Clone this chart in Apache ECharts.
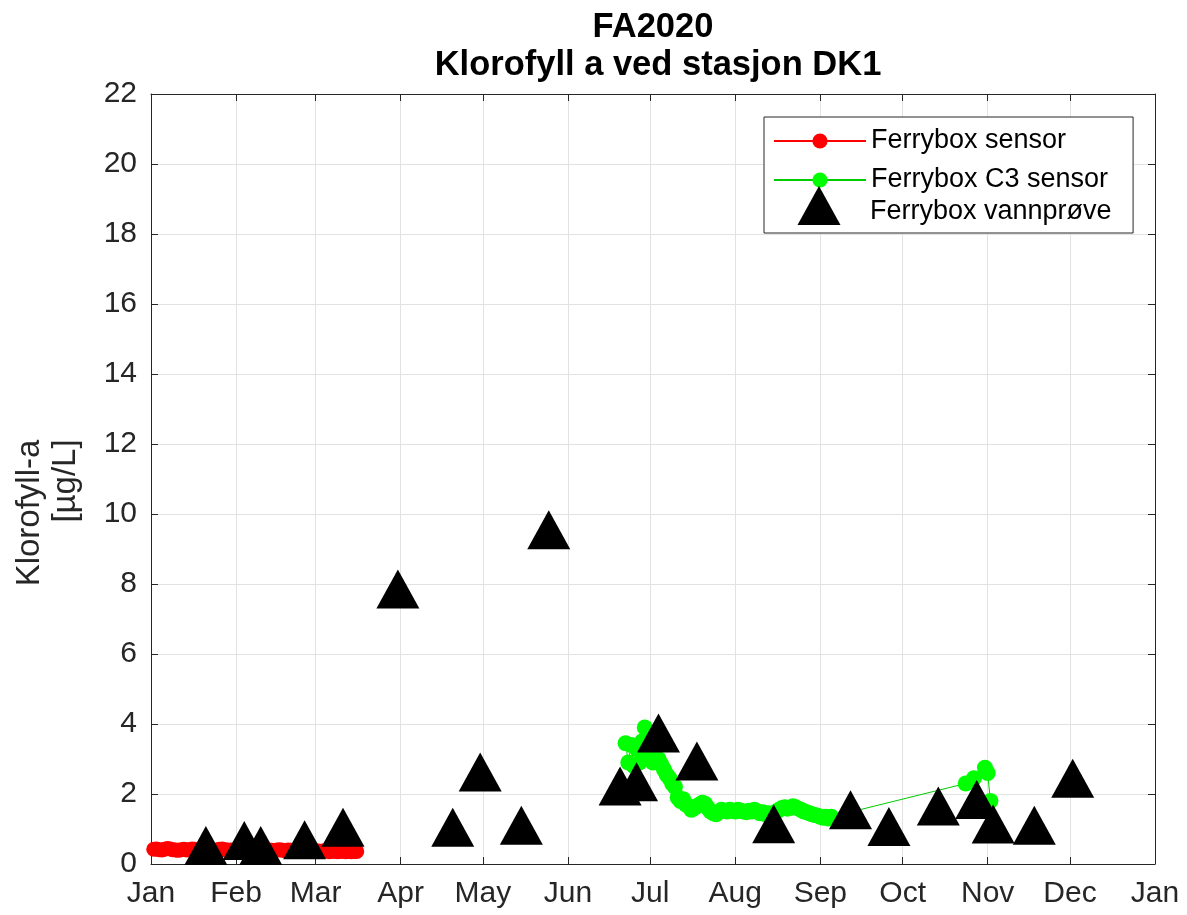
<!DOCTYPE html>
<html><head><meta charset="utf-8">
<script src="https://cdn.jsdelivr.net/npm/echarts@6/dist/echarts.min.js"></script>
<style>html,body{margin:0;padding:0;background:#fff}#c{width:1187px;height:915px}</style>
</head><body><div id="c"></div>
<script>
const titleLines = ['FA2020', 'Klorofyll a ved stasjon DK1'];
const yLabelLines = ['Klorofyll-a', '[µg/L]'];
const monthTicks = ['2020-01-01','2020-02-01','2020-03-01','2020-04-01','2020-05-01','2020-06-01','2020-07-01','2020-08-01','2020-09-01','2020-10-01','2020-11-01','2020-12-01','2021-01-01'];
const monthLabels = ['Jan','Feb','Mar','Apr','May','Jun','Jul','Aug','Sep','Oct','Nov','Dec','Jan'];
const yMin = 0, yMax = 22, yStep = 2;
const seriesNames = ['Ferrybox sensor', 'Ferrybox C3 sensor', 'Ferrybox vannprøve'];

// Ferrybox sensor (red)
const ferryboxSensor = [
['2020-01-02',0.42],['2020-01-03',0.43],['2020-01-04',0.41],['2020-01-05',0.40],['2020-01-06',0.42],['2020-01-07',0.44],['2020-01-08',0.43],['2020-01-09',0.41],['2020-01-10',0.40],['2020-01-11',0.39],
['2020-01-12',0.41],['2020-01-13',0.42],['2020-01-14',0.40],['2020-01-15',0.41],['2020-01-16',0.43],['2020-01-17',0.42],['2020-01-18',0.40],['2020-01-19',0.39],['2020-01-20',0.41],['2020-01-21',0.40],
['2020-01-22',0.42],['2020-01-23',0.41],['2020-01-24',0.39],['2020-01-25',0.40],['2020-01-26',0.42],['2020-01-27',0.43],['2020-01-28',0.41],['2020-01-29',0.40],['2020-01-30',0.39],['2020-01-31',0.41],
['2020-02-01',0.40],['2020-02-02',0.38],['2020-02-03',0.39],['2020-02-04',0.41],['2020-02-05',0.40],['2020-02-06',0.38],['2020-02-07',0.37],['2020-02-08',0.39],['2020-02-09',0.40],['2020-02-10',0.38],
['2020-02-11',0.39],['2020-02-12',0.41],['2020-02-13',0.40],['2020-02-14',0.39],['2020-02-15',0.38],['2020-02-16',0.40],['2020-02-17',0.41],['2020-02-18',0.39],['2020-02-19',0.38],['2020-02-20',0.40],
['2020-02-21',0.39],['2020-02-22',0.38],['2020-02-23',0.40],['2020-02-24',0.39],['2020-02-25',0.37],['2020-02-26',0.38],['2020-02-27',0.39],['2020-02-28',0.37],['2020-02-29',0.36],
['2020-03-01',0.38],['2020-03-02',0.37],['2020-03-03',0.36],['2020-03-04',0.38],['2020-03-05',0.37],['2020-03-06',0.35],['2020-03-07',0.36],['2020-03-08',0.37],['2020-03-09',0.35],['2020-03-10',0.36],
['2020-03-11',0.37],['2020-03-12',0.35],['2020-03-13',0.36],['2020-03-14',0.35],['2020-03-15',0.36],['2020-03-16',0.36]
];

// Ferrybox C3 sensor (green)
const ferryboxC3 = [
['2020-06-22',3.45],['2020-06-23',2.9],['2020-06-24',3.4],['2020-06-25',2.8],['2020-06-26',3.3],['2020-06-27',2.9],['2020-06-28',3.5],['2020-06-29',3.9],['2020-06-30',3.0],
['2020-07-01',3.6],['2020-07-02',2.9],['2020-07-03',3.3],['2020-07-04',3.0],['2020-07-05',2.85],['2020-07-06',2.7],['2020-07-07',2.55],['2020-07-08',2.45],['2020-07-09',2.3],['2020-07-10',2.2],
['2020-07-11',1.9],['2020-07-12',1.8],['2020-07-13',1.85],['2020-07-14',1.7],['2020-07-15',1.65],['2020-07-16',1.55],['2020-07-17',1.6],['2020-07-18',1.65],['2020-07-19',1.7],['2020-07-20',1.75],
['2020-07-21',1.72],['2020-07-22',1.6],['2020-07-23',1.5],['2020-07-24',1.45],['2020-07-25',1.42],['2020-07-26',1.48],['2020-07-27',1.55],['2020-07-28',1.52],['2020-07-29',1.5],['2020-07-30',1.55],
['2020-07-31',1.52],['2020-08-01',1.5],['2020-08-02',1.55],['2020-08-03',1.52],['2020-08-04',1.5],['2020-08-05',1.48],['2020-08-06',1.52],['2020-08-07',1.5],['2020-08-08',1.55],['2020-08-09',1.5],
['2020-08-10',1.45],['2020-08-11',1.48],['2020-08-12',1.42],['2020-08-13',1.45],['2020-08-14',1.4],['2020-08-15',1.45],['2020-08-16',1.5],['2020-08-17',1.55],['2020-08-18',1.6],['2020-08-19',1.62],
['2020-08-20',1.58],['2020-08-21',1.6],['2020-08-22',1.65],['2020-08-23',1.62],['2020-08-24',1.58],['2020-08-25',1.55],['2020-08-26',1.5],['2020-08-27',1.48],['2020-08-28',1.45],['2020-08-29',1.42],
['2020-08-30',1.4],['2020-08-31',1.38],['2020-09-01',1.35],['2020-09-02',1.32],['2020-09-03',1.35],['2020-09-04',1.3],['2020-09-05',1.35],
['2020-10-24',2.3],['2020-10-27',2.45],['2020-10-31',2.75],['2020-11-01',2.6],['2020-11-02',1.8]
];

// Ferrybox vannprøve (black triangles)
const vannprove = [
['2020-01-21',0.53],['2020-02-04',0.67],['2020-02-10',0.53],['2020-02-26',0.69],['2020-03-11',1.05],
['2020-03-31',7.86],['2020-04-20',1.05],['2020-04-30',2.63],['2020-05-15',1.11],['2020-05-25',9.55],
['2020-06-20',2.23],['2020-06-26',2.35],['2020-07-04',3.74],['2020-07-18',2.94],['2020-08-15',1.15],
['2020-09-12',1.55],['2020-09-26',1.07],['2020-10-14',1.66],['2020-10-28',1.84],['2020-11-03',1.14],
['2020-11-18',1.11],['2020-12-02',2.45]
];

const FONT = '"Liberation Sans", Arial, sans-serif';
const AX = '#262626';
const toTime = s => echarts.time.parse(s).getTime();
const tickTimes = monthTicks.map(toTime);
const xMin = tickTimes[0], xMax = tickTimes[tickTimes.length - 1];
const asTime = arr => arr.map(d => [toTime(d[0]), d[1]]);

function xAxisCfg(pos, showLabel) {
  return {
    type: 'value', position: pos, min: xMin, max: xMax, scale: false,
    axisLine: { show: true, onZero: false, lineStyle: { color: AX, width: 1 } },
    axisTick: { show: true, inside: true, length: 7, lineStyle: { color: AX }, customValues: tickTimes },
    axisLabel: showLabel ? {
      show: true, customValues: tickTimes, margin: 15, color: AX, fontSize: 30, fontFamily: FONT,
      showMinLabel: true, showMaxLabel: true,
      formatter: function (v) { const i = tickTimes.indexOf(+v); return i >= 0 ? monthLabels[i] : ''; }
    } : { show: false },
    splitLine: { show: showLabel, lineStyle: { color: '#e2e2e2', width: 1 } }
  };
}
function yAxisCfg(pos, showLabel) {
  return {
    type: 'value', position: pos, min: yMin, max: yMax, interval: yStep,
    axisLine: { show: true, onZero: false, lineStyle: { color: AX, width: 1 } },
    axisTick: { show: true, inside: true, length: 7, lineStyle: { color: AX } },
    axisLabel: showLabel ? { show: true, margin: 14, color: AX, fontSize: 30, fontFamily: FONT } : { show: false },
    splitLine: { show: showLabel, lineStyle: { color: '#e2e2e2', width: 1 } }
  };
}

const chart = echarts.init(document.getElementById('c'), null, { renderer: 'canvas' });
chart.setOption({
  animation: false,
  backgroundColor: '#fff',
  grid: { left: 151, right: 32, top: 94, bottom: 51, containLabel: false },
  xAxis: [xAxisCfg('bottom', true), xAxisCfg('top', false)],
  yAxis: [yAxisCfg('left', true), yAxisCfg('right', false)],
  legend: [
    {
      data: [seriesNames[0], seriesNames[1]], orient: 'vertical', left: 764, top: 117,
      padding: [9, 25, 38, 9], itemWidth: 92, itemHeight: 19, itemGap: 9,
      backgroundColor: '#fff', borderColor: AX, borderWidth: 1, borderRadius: 0,
      selectedMode: false,
      textStyle: { fontSize: 27, fontFamily: FONT, color: '#000', lineHeight: 30 }
    },
    {
      data: [{ name: seriesNames[2], icon: 'path://M0,0M92,39M46,0L67.5,39L24.5,39Z', itemStyle: { opacity: 1 } }],
      orient: 'vertical', left: 773, top: 186, padding: 0, z: 6,
      itemWidth: 92, itemHeight: 39, selectedMode: false,
      formatter: '{t|{name}}',
      textStyle: { fontSize: 27, fontFamily: FONT, color: '#000',
        rich: { t: { fontSize: 27, fontFamily: FONT, color: '#000', lineHeight: 30, padding: [12, 0, 0, 0] } } }
    }
  ],
  series: [
    {
      name: seriesNames[0], type: 'line', data: asTime(ferryboxSensor), xAxisIndex: 0, yAxisIndex: 0,
      symbol: 'circle', symbolSize: 15, showAllSymbol: true,
      itemStyle: { color: '#ff0000' }, lineStyle: { color: '#ff0000', width: 1 }, z: 2
    },
    {
      name: seriesNames[1], type: 'line', data: asTime(ferryboxC3), xAxisIndex: 0, yAxisIndex: 0,
      symbol: 'circle', symbolSize: 16, showAllSymbol: true,
      itemStyle: { color: '#00ff00' }, lineStyle: { color: '#00cc00', width: 1 }, z: 3
    },
    {
      name: seriesNames[2], type: 'scatter', data: asTime(vannprove), xAxisIndex: 0, yAxisIndex: 0,
      symbol: 'triangle', symbolSize: [43, 39],
      itemStyle: { color: '#000000', opacity: 1 }, z: 4
    }
  ],
  graphic: [
    { type: 'text', x: 653, y: 27, z: 10, style: { text: titleLines[0], font: 'bold 34.5px ' + FONT, fill: '#000', textAlign: 'center', textVerticalAlign: 'middle' } },
    { type: 'text', x: 658, y: 65, z: 10, style: { text: titleLines[1], font: 'bold 34.5px ' + FONT, fill: '#000', textAlign: 'center', textVerticalAlign: 'middle' } },
    { type: 'text', x: 30, y: 513, rotation: Math.PI / 2, z: 10, style: { text: yLabelLines[0], font: '33px ' + FONT, fill: AX, textAlign: 'center', textVerticalAlign: 'middle' } },
    { type: 'text', x: 66, y: 481, rotation: Math.PI / 2, z: 10, style: { text: yLabelLines[1], font: '33px ' + FONT, fill: AX, textAlign: 'center', textVerticalAlign: 'middle' } }
  ]
});
</script>
</body></html>
